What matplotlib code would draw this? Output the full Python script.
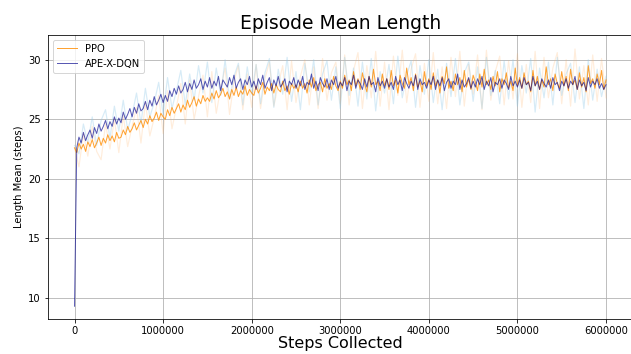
import numpy as np
import matplotlib
matplotlib.use("Agg")
import matplotlib.pyplot as plt

steps = np.arange(0, 6000001, 25000)       # 241 points for the main lines
steps_raw = np.arange(0, 6000001, 50000)   # 121 points for the pale raw lines

ppo_mean = [22.6,
    22.2, 23.0, 22.5, 22.9, 22.3, 23.1, 22.7, 23.3, 22.6, 23.0, 23.5, 22.8, 23.4, 23.0, 23.7, 23.2, 23.6, 23.1, 23.9, 23.4,
    23.5, 24.1, 23.7, 24.4, 23.9, 24.2, 24.7, 24.1, 24.5, 24.9, 24.3, 25.0, 24.6, 25.3, 24.8, 25.1, 25.6, 24.9, 25.5, 25.2,
    25.0, 25.8, 25.3, 26.0, 25.5, 25.9, 26.3, 25.6, 26.2, 25.8, 26.6, 26.0, 26.4, 26.9, 26.1, 26.7, 26.3, 27.0, 26.5, 26.8,
    26.5, 27.2, 26.7, 27.4, 26.8, 27.1, 27.6, 26.9, 27.3, 26.7, 27.5, 27.0, 27.7, 26.9, 27.4, 27.1, 27.8, 27.0, 27.5, 27.2,
    27.0, 27.8, 27.2, 27.6, 28.1, 27.1, 27.7, 27.4, 28.0, 27.2, 27.9, 27.5, 27.3, 28.2, 27.4, 27.8, 27.1, 28.0, 27.6, 27.9,
    27.3, 28.2, 27.6, 28.0, 27.2, 28.3, 27.7, 28.5, 27.4, 27.9, 28.1, 27.3, 28.4, 27.6, 28.0, 27.5, 28.6, 27.8, 27.4, 28.2,
    27.6, 28.7, 27.9, 28.3, 27.4, 29.0, 27.8, 28.4, 27.5, 28.9, 28.0, 27.3, 28.6, 27.7, 29.2, 27.9, 28.2, 27.4, 28.8, 27.8,
    28.4, 27.5, 29.1, 27.8, 28.3, 27.2, 28.7, 28.0, 27.6, 29.3, 27.9, 28.5, 27.4, 28.8, 27.7, 28.2, 27.3, 29.0, 27.8, 28.4,
    27.5, 28.9, 27.8, 28.3, 27.2, 28.6, 28.0, 29.4, 27.6, 28.2, 27.4, 28.8, 27.9, 28.5, 27.3, 29.1, 27.7, 28.4, 27.5, 28.7,
    28.1, 27.4, 28.8, 27.7, 29.2, 27.9, 28.3, 27.5, 28.6, 27.8, 29.0, 27.3, 28.4, 27.9, 28.9, 27.6, 28.2, 27.4, 29.3, 27.8,
    28.5, 27.6, 28.9, 27.9, 28.2, 27.3, 29.1, 27.8, 28.6, 27.5, 28.3, 27.7, 29.4, 27.9, 28.4, 27.4, 28.8, 28.0, 27.6, 29.0,
    27.8, 28.6, 27.4, 29.2, 27.9, 28.3, 27.5, 28.9, 27.7, 28.5, 27.3, 29.5, 28.0, 28.4, 27.6, 28.8, 27.9, 29.1, 27.5, 28.3]

ape_mean = [9.3,
    22.6, 23.5, 23.0, 23.9, 23.2, 23.7, 24.1, 23.4, 24.3, 23.8, 24.6, 24.0, 24.4, 24.9, 24.2, 24.8, 24.4, 25.2, 24.6, 25.1,
    24.7, 25.6, 25.0, 25.4, 25.9, 25.2, 26.0, 25.5, 26.3, 25.7, 25.9, 26.5, 25.8, 26.6, 26.1, 26.9, 26.2, 26.6, 27.1, 26.4,
    27.0, 26.5, 27.4, 26.9, 27.6, 27.1, 27.8, 27.2, 27.5, 28.1, 27.3, 28.0, 27.5, 28.3, 27.6, 27.9, 28.4, 27.5, 28.2, 27.7,
    28.5, 27.6, 28.2, 27.8, 28.6, 27.4, 28.3, 28.0, 27.7, 28.5, 27.9, 28.7, 27.6, 28.1, 28.4, 27.5, 28.3, 27.9, 28.6, 27.7,
    28.2, 27.5, 28.4, 27.9, 28.7, 27.6, 28.1, 28.5, 27.4, 28.3, 27.8, 28.6, 27.7, 28.0, 28.4, 27.3, 28.2, 27.9, 28.5, 27.6,
    28.3, 27.8, 28.6, 27.5, 28.1, 27.9, 28.8, 27.6, 28.2, 27.4, 28.5, 28.0, 27.7, 28.4, 27.5, 28.3, 27.9, 28.6, 27.6, 28.1,
    27.8, 28.5, 27.4, 28.2, 27.9, 28.7, 27.6, 28.3, 28.0, 27.5, 28.4, 27.7, 28.6, 27.9, 28.1, 27.3, 28.5, 27.8, 28.2, 27.6,
    28.4, 27.7, 28.1, 27.5, 28.6, 27.9, 28.3, 27.4, 28.5, 28.0, 27.6, 28.2, 27.8, 28.7, 27.5, 28.4, 27.9, 28.1, 27.6, 28.3,
    27.9, 28.6, 27.5, 28.3, 27.8, 28.5, 27.4, 28.1, 28.4, 27.6, 28.2, 27.9, 28.8, 27.5, 28.3, 27.7, 28.0, 28.5, 27.6, 28.2,
    27.7, 28.4, 27.9, 28.6, 27.5, 28.2, 27.8, 28.5, 27.3, 28.1, 27.9, 28.4, 27.6, 28.3, 28.0, 27.5, 28.6, 27.8, 28.2, 27.7,
    28.3, 27.6, 28.5, 27.9, 28.1, 27.4, 28.6, 27.8, 28.2, 27.5, 28.4, 28.0, 27.7, 28.3, 27.6, 28.5, 27.9, 28.1, 27.4, 28.2,
    27.8, 28.4, 27.6, 28.2, 27.9, 28.6, 27.5, 28.3, 27.8, 28.1, 27.4, 28.5, 27.7, 28.2, 27.9, 28.4, 27.6, 28.0, 27.5, 27.9]

ppo_raw = [22.6,
    21.0, 23.8, 21.9, 24.4, 22.3, 21.6, 24.6, 22.5, 25.0, 22.2,
    25.3, 22.7, 24.4, 26.0, 23.0, 26.4, 23.6, 25.1, 27.0, 23.8,
    27.4, 24.2, 26.0, 28.0, 24.6, 28.3, 25.0, 26.9, 28.7, 25.2,
    29.0, 25.5, 27.6, 29.3, 25.4, 28.2, 29.5, 25.8, 28.8, 26.0,
    29.6, 25.9, 28.4, 29.8, 26.1, 27.9, 29.5, 25.8, 29.9, 26.4,
    28.6, 30.0, 26.2, 29.4, 25.9, 30.1, 26.6, 28.9, 29.8, 26.3,
    30.4, 26.2, 29.1, 30.6, 25.9, 29.5, 26.8, 30.7, 26.1, 29.8, 25.8, 30.3, 27.0, 30.8, 26.4, 29.2, 30.5, 26.0, 29.7, 26.5,
    30.6, 26.3, 29.4, 25.9, 30.2, 26.9, 30.7, 26.1, 29.6, 27.1, 30.4, 25.8, 30.8, 26.6, 29.0, 30.3, 26.2, 29.9, 26.7, 30.5,
    26.0, 29.6, 26.4, 30.7, 25.9, 30.2, 26.8, 29.3, 30.6, 26.3, 30.0, 26.1, 30.9, 26.7, 29.5, 26.2, 30.4, 26.5, 30.1, 26.8]

ape_raw = [22.8,
    22.1, 24.6, 23.0, 25.2, 22.8, 24.9, 25.8, 23.4, 26.1, 24.0,
    26.6, 24.1, 25.4, 27.2, 24.6, 27.6, 25.2, 26.4, 28.1, 25.4,
    28.5, 25.9, 27.4, 29.1, 26.2, 28.8, 26.6, 29.5, 27.2, 29.8,
    26.4, 29.3, 27.0, 30.0, 26.7, 28.6, 29.7, 26.2, 29.4, 27.1,
    29.6, 26.3, 28.9, 30.1, 26.0, 29.2, 27.1, 30.2, 26.5, 29.0, 25.8, 29.7, 27.3, 30.0, 26.2, 28.8, 29.9, 26.6, 29.4, 25.9,
    30.2, 27.0, 29.3, 26.1, 29.8, 26.7, 30.1, 25.7, 29.0, 27.2, 29.6, 26.3, 30.3, 26.8, 28.7, 29.9, 26.0, 29.5, 27.1, 30.0,
    26.4, 29.2, 25.8, 29.7, 26.9, 30.1, 26.2, 28.9, 29.8, 26.5, 29.4, 25.9, 30.2, 27.0, 29.1, 26.3, 29.9, 26.7, 30.0, 26.1,
    29.5, 27.2, 30.1, 25.6, 29.3, 26.8, 29.8, 26.2, 30.2, 27.0, 28.8, 29.7, 26.4, 29.4, 25.9, 30.0, 26.6, 29.2, 26.9, 28.6]

xticks = [0, 1000000, 2000000, 3000000, 4000000, 5000000, 6000000]
yticks = [10, 15, 20, 25, 30]

fig = plt.figure(figsize=(631 / 72, 354 / 72), dpi=72)
ax = fig.add_axes([0.076, 0.098, 0.9265, 0.804])

ax.plot(steps_raw, ppo_raw, color="#ffb060", alpha=0.22, lw=1.2, zorder=1)
ax.plot(steps_raw, ape_raw, color="#8ec8e8", alpha=0.35, lw=1.2, zorder=1)
ax.plot(steps, ppo_mean, color="darkorange", alpha=0.8, lw=1.0, label="PPO", zorder=2)
ax.plot(steps, ape_mean, color="darkblue", alpha=0.65, lw=1.0, label="APE-X-DQN", zorder=3)

ax.set_xlim(-300000, 6300000)
ax.set_ylim(8.2, 32.1)
ax.set_xticks(xticks)
ax.set_xticklabels([str(t) for t in xticks])
ax.set_yticks(yticks)
ax.grid(True, color="#b0b0b0", lw=0.8)
ax.set_axisbelow(True)
ax.spines["right"].set_visible(False)

ax.set_title("Episode Mean Length", fontsize=18.7)
ax.set_xlabel("Steps Collected", fontsize=16, labelpad=0)
ax.set_ylabel("Length Mean (steps)", fontsize=10)
ax.legend(loc="upper left", fontsize=10)

fig.savefig("out.png", dpi=72)
